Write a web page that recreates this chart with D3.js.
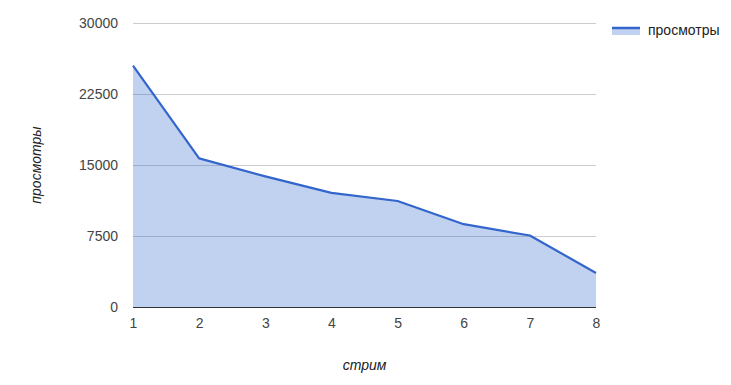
<!DOCTYPE html>
<html>
<head>
<meta charset="utf-8">
<script src="https://cdn.jsdelivr.net/npm/d3@7"></script>
<style>
  body { margin: 0; background: #fff; }
  svg { display: block; font-family: "Liberation Sans", Arial, sans-serif; }
</style>
</head>
<body>
<div id="chart"></div>
<script>
const streams = [1, 2, 3, 4, 5, 6, 7, 8];
const views = [25500, 15700, 13800, 12050, 11200, 8750, 7550, 3600];
const yTicks = [0, 7500, 15000, 22500, 30000];
const seriesName = "просмотры";
const xTitle = "стрим";
const yTitle = "просмотры";

const width = 731;
const height = 385;
const margin = { top: 23, right: 135, bottom: 78, left: 133 };
const innerWidth = width - margin.left - margin.right;
const innerHeight = height - margin.top - margin.bottom;

const data = streams.map((s, i) => ({ stream: s, views: views[i] }));

const svg = d3.select("#chart")
  .append("svg")
  .attr("width", width)
  .attr("height", height);

const g = svg.append("g")
  .attr("transform", `translate(${margin.left}, ${margin.top})`);

const x = d3.scaleLinear().domain([1, 8]).range([0, innerWidth]);
const y = d3.scaleLinear().domain([0, 30000]).range([innerHeight, 0]);

// gridlines
g.append("g")
  .selectAll("line")
  .data(yTicks.filter((d) => d !== 0))
  .enter()
  .append("line")
  .attr("x1", 0)
  .attr("x2", innerWidth)
  .attr("y1", (d) => y(d) + 0.5)
  .attr("y2", (d) => y(d) + 0.5)
  .attr("stroke", "#cccccc");

const area = d3.area()
  .x((d) => x(d.stream))
  .y0(y(0))
  .y1((d) => y(d.views));

const line = d3.line()
  .x((d) => x(d.stream))
  .y((d) => y(d.views));

g.append("path")
  .datum(data)
  .attr("d", area)
  .attr("fill", "#3366cc")
  .attr("fill-opacity", 0.3);

// baseline
g.append("line")
  .attr("x1", 0)
  .attr("x2", innerWidth)
  .attr("y1", y(0) + 0.5)
  .attr("y2", y(0) + 0.5)
  .attr("stroke", "#333333");

g.append("path")
  .datum(data)
  .attr("d", line)
  .attr("fill", "none")
  .attr("stroke", "#3366cc")
  .attr("stroke-width", 2.2)
  .attr("stroke-linejoin", "round");

// y tick labels
const yAxis = d3.axisLeft(y)
  .tickValues(yTicks)
  .tickFormat(d3.format("d"))
  .tickSize(0)
  .tickPadding(15);
g.append("g")
  .call(yAxis)
  .attr("font-size", 14)
  .attr("font-family", "\"Liberation Sans\", Arial, sans-serif")
  .call((sel) => sel.select(".domain").remove())
  .selectAll("text")
  .attr("fill", "#444444");

// x tick labels
const xAxis = d3.axisBottom(x)
  .tickValues(streams)
  .tickFormat(d3.format("d"))
  .tickSize(0)
  .tickPadding(11);
g.append("g")
  .attr("transform", `translate(0, ${innerHeight})`)
  .call(xAxis)
  .attr("font-size", 14)
  .attr("font-family", "\"Liberation Sans\", Arial, sans-serif")
  .call((sel) => sel.select(".domain").remove())
  .selectAll("text")
  .attr("fill", "#444444");

// axis titles
svg.append("text")
  .attr("x", margin.left + innerWidth / 2)
  .attr("y", 370)
  .attr("text-anchor", "middle")
  .attr("font-size", 14)
  .attr("font-style", "italic")
  .attr("fill", "#222222")
  .text(xTitle);

svg.append("text")
  .attr("transform", `translate(41, ${margin.top + innerHeight / 2}) rotate(-90)`)
  .attr("text-anchor", "middle")
  .attr("font-size", 14)
  .attr("font-style", "italic")
  .attr("fill", "#222222")
  .text(yTitle);

// legend
const legend = svg.append("g").attr("transform", "translate(612, 30)");
legend.append("rect")
  .attr("x", 0)
  .attr("y", -3)
  .attr("width", 28)
  .attr("height", 8)
  .attr("fill", "#3366cc")
  .attr("fill-opacity", 0.3);
legend.append("line")
  .attr("x1", 0)
  .attr("x2", 28)
  .attr("y1", -2)
  .attr("y2", -2)
  .attr("stroke", "#3366cc")
  .attr("stroke-width", 2.5);
legend.append("text")
  .attr("x", 36)
  .attr("y", 5)
  .attr("font-size", 14)
  .attr("fill", "#222222")
  .text(seriesName);
</script>
</body>
</html>
